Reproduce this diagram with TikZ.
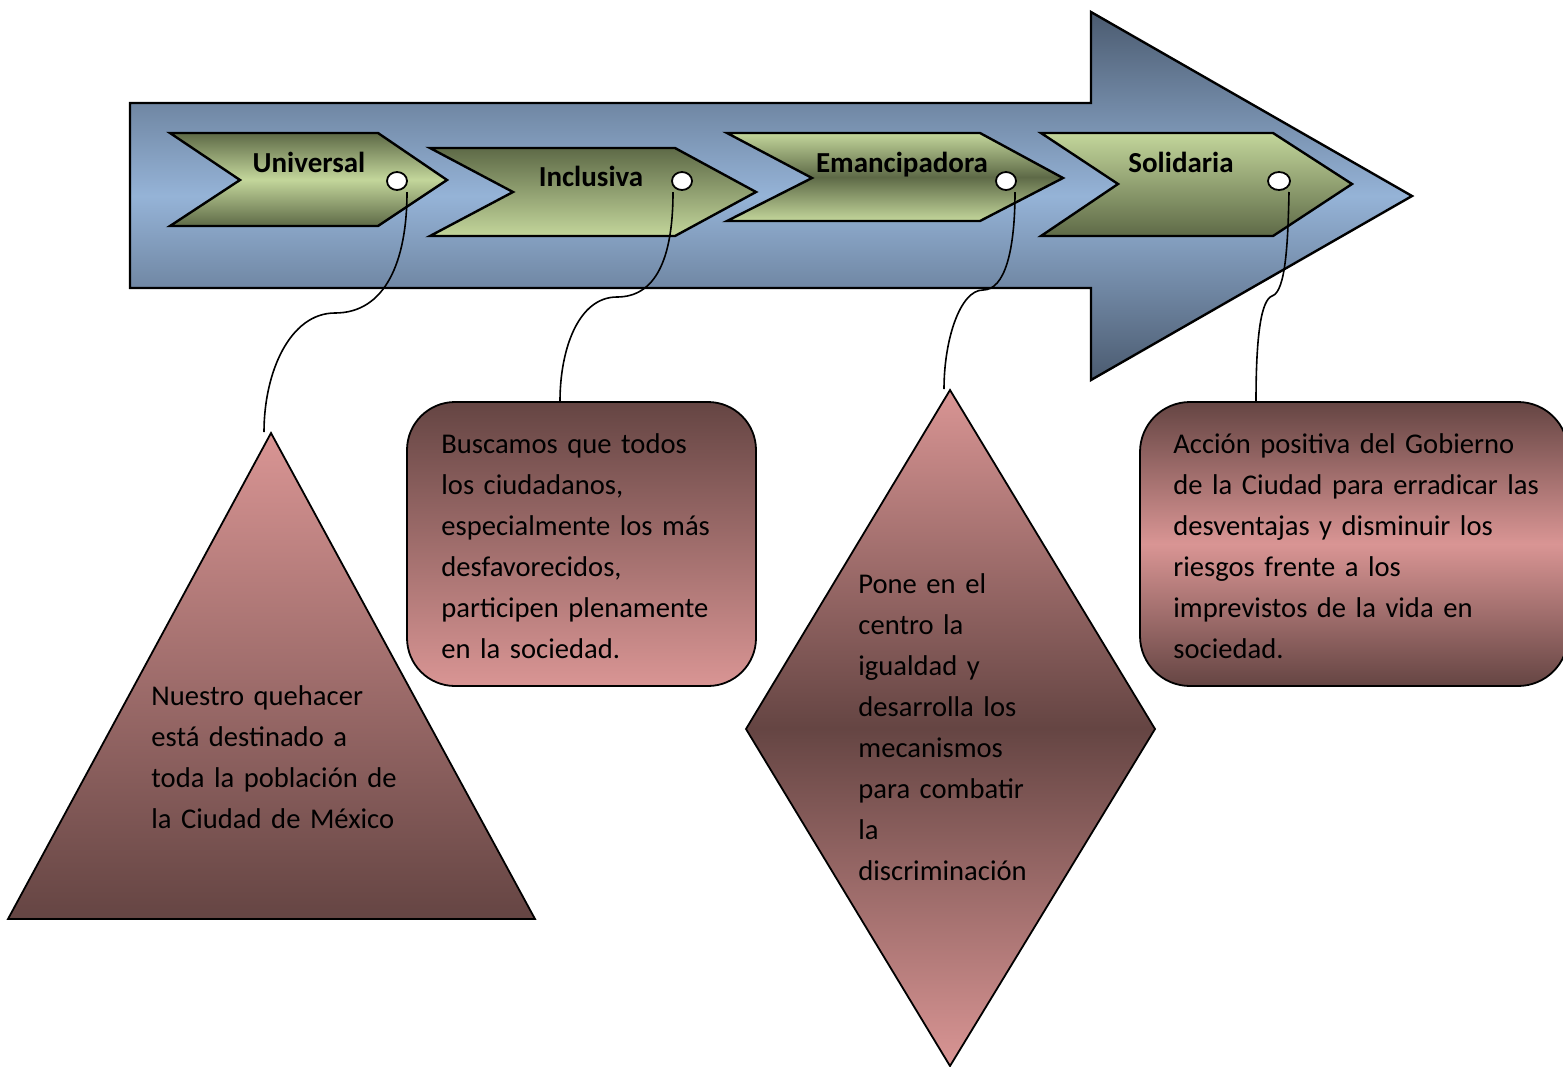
\documentclass[tikz,border=0pt]{standalone}
\usepackage{fontspec}
\setmainfont{Carlito}
\usetikzlibrary{shapes.geometric}
\definecolor{bdark}{HTML}{4B5B70}
\definecolor{blight}{HTML}{95B3D7}
\definecolor{gdark}{HTML}{5E6A47}
\definecolor{glight}{HTML}{C3D69B}
\definecolor{pdark}{HTML}{654543}
\definecolor{plight}{HTML}{D99594}
\begin{document}
\begin{tikzpicture}[x=0.5pt,y=-0.5pt,
  outl/.style={draw=black,line width=1.2pt,line join=miter},
  pinkline/.style={draw=black,line width=0.9pt},
  conn/.style={draw=black,line width=0.8pt},
  dot/.style={ellipse,draw=black,line width=0.9pt,fill=white,inner sep=0pt,minimum width=10pt,minimum height=9pt},
  lbl/.style={font=\fontsize{14.5pt}{20.5pt}\selectfont\bfseries,inner sep=0pt,anchor=base},
  txt/.style={font=\fontsize{14.3pt}{20.5pt}\selectfont,inner sep=0pt,text width=220pt,align=left,anchor=base west}]
\useasboundingbox (0,0) rectangle (1563,1066);
% big arrow
\draw[outl,top color=bdark,bottom color=bdark,middle color=blight]
  (130,103) -- (1091,103) -- (1091,12) -- (1412,196) -- (1091,380) -- (1091,288) -- (130,288) -- cycle;
% chevrons
\draw[outl,top color=gdark,bottom color=gdark,middle color=glight]
  (170,133) -- (378,133) -- (447,180) -- (378,226) -- (170,226) -- (240,180) -- cycle;
\draw[outl,top color=gdark,bottom color=glight]
  (430,148) -- (675,148) -- (756,192) -- (675,236) -- (430,236) -- (513,192) -- cycle;
\draw[outl,top color=glight,bottom color=glight,middle color=gdark]
  (727,133) -- (980,133) -- (1063,178) -- (980,221) -- (727,221) -- (812,178) -- cycle;
\draw[outl,top color=glight,bottom color=gdark]
  (1041,133) -- (1273,133) -- (1352,184) -- (1273,236) -- (1041,236) -- (1118,184) -- cycle;
% labels
\node[lbl] (l1) at (309,172) {Universal};
\node[lbl] (l2) at (591,186) {Inclusiva};
\node[lbl] (l3) at (902,172) {Emancipadora};
\node[lbl] (l4) at (1181,172) {Solidaria};
% dots
\node[dot] (d1) at (397,181) {};
\node[dot] (d2) at (682,181) {};
\node[dot] (d3) at (1006,181) {};
\node[dot,minimum width=11pt] (d4) at (1279,181) {};
% shapes below
\draw[pinkline,top color=plight,bottom color=pdark] (271,433) -- (535,919) -- (8,919) -- cycle;
\draw[pinkline,top color=pdark,bottom color=plight,rounded corners=24pt] (407,402) rectangle (756,686);
\draw[pinkline,top color=plight,bottom color=plight,middle color=pdark] (950,390) -- (1155,729) -- (950,1066) -- (746,729) -- cycle;
\draw[pinkline,top color=pdark,bottom color=pdark,middle color=plight,rounded corners=25pt] (1140,402) rectangle (1568,686);
% texts
\node[txt] (t1) at (151,705) {Nuestro quehacer\\está destinado a\\toda la población de\\la Ciudad de México};
\node[txt] (t2) at (441,453) {Buscamos que todos\\los ciudadanos,\\especialmente los más\\desfavorecidos,\\participen plenamente\\en la sociedad.};
\node[txt] (t3) at (858,593) {Pone en el\\centro la\\igualdad y\\desarrolla los\\mecanismos\\para combatir\\la\\discriminación};
\node[txt] (t4) at (1173,453) {Acción positiva del Gobierno\\de la Ciudad para erradicar las\\desventajas y disminuir los\\riesgos frente a los\\imprevistos de la vida en\\sociedad.};
% connector coordinates
\coordinate (s1) at (407,192); \coordinate (m1) at (335,313); \coordinate (e1) at (264,432);
\coordinate (s2) at (673,192); \coordinate (m2) at (617,297); \coordinate (e2) at (560,401);
\coordinate (s3) at (1015,192); \coordinate (m3) at (983,290); \coordinate (e3) at (944,389);
\coordinate (s4) at (1289,192); \coordinate (m4) at (1272,296); \coordinate (e4) at (1256,401);
\draw[conn] (s1) .. controls (407,262) and (385,313) .. (m1) .. controls (290,313) and (264,372) .. (e1);
\draw[conn] (s2) .. controls (673,260) and (655,297) .. (m2) .. controls (578,297) and (560,350) .. (e2);
\draw[conn] (s3) .. controls (1015,250) and (1005,290) .. (m3) .. controls (960,290) and (944,340) .. (e3);
\draw[conn] (s4) .. controls (1288,240) and (1286,292) .. (m4) .. controls (1262,300) and (1256,330) .. (e4);
\end{tikzpicture}
\end{document}
